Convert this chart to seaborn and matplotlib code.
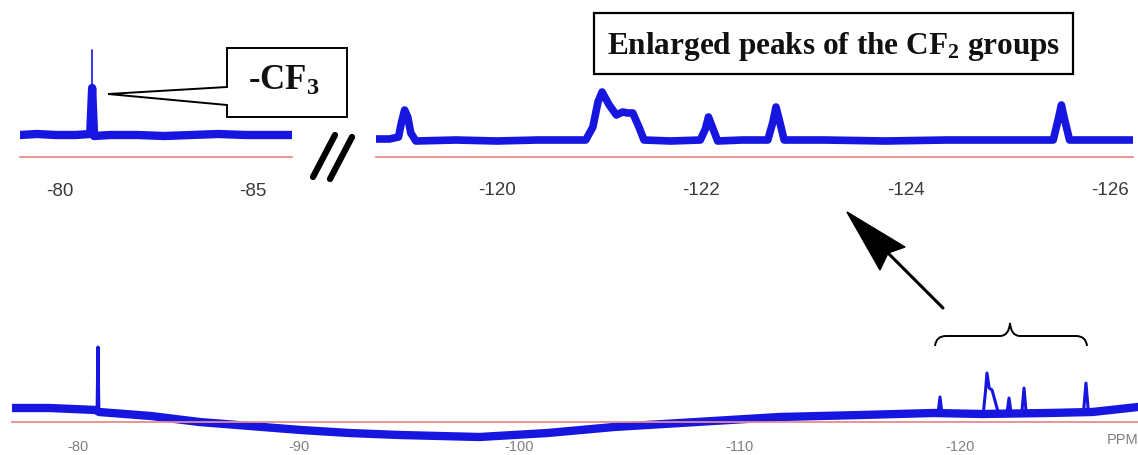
import numpy as np
import matplotlib
matplotlib.use("Agg")
import matplotlib.pyplot as plt
from matplotlib.patches import Polygon, Rectangle, PathPatch
from matplotlib.path import Path
from matplotlib.ticker import MultipleLocator, FormatStrFormatter
import seaborn as sb

output = "out.png"
W, H = 1138, 455
BLUE = "#1616e0"
AXRED = "#e48c8c"
TICKC = "#b07878"

# DATA (ppm, signal height above the axis line)
#-----------------------
# inset 1: -CF3 region
cf3_ppm = [-78.96, -79.4, -79.9, -80.4, -80.78, -80.83, -80.88, -81.3, -82.0,
           -82.7, -83.4, -84.1, -84.8, -85.5, -86.01]
cf3_int = [22, 23, 22, 22, 23, 69, 21, 22, 22, 21, 22, 23, 22, 22, 22]
cf3_tip_ppm = [-80.83, -80.83]
cf3_tip_int = [69, 107]
cf3_ticks = [-80, -85]

# inset 2: enlarged CF2 region
cf2_ppm = [-118.82, -118.95, -119.04, -119.07, -119.10, -119.13, -119.16, -119.21,
           -119.6, -120.0, -120.4, -120.87, -120.94, -120.99, -121.03, -121.10,
           -121.17, -121.23, -121.28, -121.33, -121.39, -121.44, -121.7, -121.99,
           -122.04, -122.07, -122.10, -122.16, -122.4, -122.65, -122.70, -122.73,
           -122.76, -122.81, -123.2, -123.8, -124.4, -125.0, -125.44, -125.49,
           -125.52, -125.55, -125.60, -125.9, -126.22]
cf2_int = [18, 18, 20, 35, 47, 40, 24, 16,
           17, 16, 17, 17, 30, 55, 65, 52,
           42, 45, 44, 44, 30, 17, 16, 17,
           28, 40, 32, 16, 17, 17, 35, 50,
           38, 17, 17, 16, 17, 17, 17, 38,
           52, 38, 17, 17, 17]
cf2_ticks = [-120, -122, -124, -126]

# full spectrum: rolling baseline + sharp peaks
full_base_ppm = [-77.0, -78.7, -80.8, -80.95, -83.3, -85.5, -87.8, -90.1, -92.3,
                 -94.6, -98.2, -101.3, -104.3, -107.3, -111.8, -115.5, -118.8,
                 -121.0, -124.0, -126.0, -128.07]
full_base_int = [14, 14, 12, 10, 6, 0, -4, -8, -11, -13, -15, -11, -5, -1, 5, 7,
                 9, 8, 9, 10, 15]
peak_id = ["CF3"] * 3 + ["a"] * 3 + ["b"] * 7 + ["c"] * 3 + ["d"] * 3 + ["e"] * 3
peak_ppm = [-80.86, -80.9, -80.94,
            -119.0, -119.09, -119.18,
            -121.05, -121.15, -121.22, -121.32, -121.45, -121.6, -121.75,
            -122.12, -122.22, -122.32,
            -122.8, -122.9, -123.0,
            -125.6, -125.71, -125.82]
peak_int = [12, 75, 10,
            9, 25, 8,
            8, 30, 49, 34, 32, 20, 8,
            8, 24, 8,
            9, 34, 9,
            10, 39, 10]
full_ticks = [-80, -90, -100, -110, -120]


# AXES HELPER (pixel placement, axis line at data 0)
#-----------------------
def make_axes(fig, left, right, spine, below, above, xlim):
    ax = fig.add_axes([left / W, 1 - (spine + below) / H, (right - left) / W, (below + above) / H])
    ax.set_facecolor("none")
    ax.set_xlim(*xlim)
    ax.set_ylim(-below, above)
    for s in ["top", "left", "right"]:
        ax.spines[s].set_visible(False)
    ax.spines["bottom"].set_position(("data", 0))
    ax.spines["bottom"].set_color(AXRED)
    ax.spines["bottom"].set_linewidth(1.3)
    ax.set_yticks([])
    return ax


def style_ticks(ax, ticks, minor, size, color, pad, major_len):
    ax.set_xticks(ticks)
    ax.xaxis.set_minor_locator(MultipleLocator(minor))
    ax.xaxis.set_major_formatter(FormatStrFormatter("%d"))
    ax.tick_params(axis="x", which="major", length=major_len, width=1, color=TICKC,
                   pad=pad, labelsize=size, labelcolor=color)
    ax.tick_params(axis="x", which="minor", length=2.5, width=1, color=TICKC)
    ax.set_xlabel("")
    ax.set_ylabel("")


# MAIN PLOT
#-----------------------
def main():
    sb.set_style("white")
    plt.rcParams["font.family"] = ["Liberation Sans", "DejaVu Sans"]
    plt.rcParams["axes.unicode_minus"] = False
    plt.rcParams["mathtext.fontset"] = "custom"
    plt.rcParams["mathtext.rm"] = "Liberation Serif:bold"
    plt.rcParams["mathtext.it"] = "Liberation Serif:bold"
    plt.rcParams["mathtext.bf"] = "Liberation Serif:bold"
    plt.rcParams["mathtext.default"] = "rm"

    fig = plt.figure(figsize=(W / 100, H / 100), dpi=100)

    # inset 1: -CF3
    ax1 = make_axes(fig, 20, 292, 157, 5, 115, (-78.96, -86.01))
    sb.lineplot(x=cf3_ppm, y=cf3_int, ax=ax1, color=BLUE, linewidth=6,
                estimator=None, sort=False)
    sb.lineplot(x=cf3_tip_ppm, y=cf3_tip_int, ax=ax1, color=BLUE, linewidth=1.2,
                estimator=None, sort=False)
    ax1.set_ylim(-5, 115)
    style_ticks(ax1, cf3_ticks, 1, 13.5, "#3a3a3a", 14, 5)

    # inset 2: CF2 groups
    ax2 = make_axes(fig, 376, 1133, 157, 5, 75, (-118.82, -126.22))
    sb.lineplot(x=cf2_ppm, y=cf2_int, ax=ax2, color=BLUE, linewidth=5.5,
                estimator=None, sort=False)
    ax2.set_ylim(-5, 75)
    style_ticks(ax2, cf2_ticks, 0.5, 13.5, "#3a3a3a", 13, 5)

    # full spectrum
    ax3 = make_axes(fig, 12, 1138, 422, 28, 85, (-77.0, -128.07))
    sb.lineplot(x=full_base_ppm, y=full_base_int, ax=ax3, color=BLUE, linewidth=6,
                estimator=None, sort=False)
    sb.lineplot(x=peak_ppm, y=peak_int, units=peak_id, ax=ax3, color=BLUE,
                linewidth=2.2, estimator=None, sort=False)
    ax3.set_ylim(-28, 85)
    style_ticks(ax3, full_ticks, 2, 10.5, "#808080", 8, 5)
    ax3.text(-126.67, -18, "PPM", fontsize=10.5, color="#808080", ha="left", va="center")

    # annotations (overlay in pixel coordinates)
    ov = fig.add_axes([0, 0, 1, 1], zorder=5)
    ov.set_xlim(0, W)
    ov.set_ylim(H, 0)
    ov.axis("off")
    ov.set_facecolor("none")

    callout = Polygon([(227, 87), (227, 48), (347, 48), (347, 117), (227, 117),
                       (227, 105), (108, 94)], closed=True, fc="white", ec="black", lw=1.4)
    ov.add_patch(callout)
    ov.text(284, 90, "-CF$_{3}$", fontsize=25, family="Liberation Serif",
            weight="bold", ha="center", va="baseline", color="#111111")

    ov.add_patch(Rectangle((594, 13), 479, 61, fc="white", ec="black", lw=1.6))
    ov.text(834, 54, "Enlarged peaks of the CF$_{2}$ groups", fontsize=22.5,
            family="Liberation Serif", weight="bold", ha="center", va="baseline",
            color="#111111")

    # break marks
    ov.plot([335, 313], [135, 177], color="black", lw=4.5, solid_capstyle="round")
    ov.plot([352, 330], [137, 179], color="black", lw=4.5, solid_capstyle="round")

    # arrow
    ov.plot([888, 943], [253, 308], color="black", lw=2.2)
    ov.add_patch(Polygon([(847, 212), (905, 247), (888, 253), (880, 270)],
                         closed=True, fc="black", ec="black", lw=1))

    # curly brace
    verts = [(935, 346), (936, 336), (946, 336), (1000, 336), (1009, 336), (1010, 323),
             (1011, 336), (1020, 336), (1076, 336), (1086, 336), (1087, 346)]
    codes = [Path.MOVETO, Path.CURVE3, Path.CURVE3, Path.LINETO, Path.CURVE3, Path.CURVE3,
             Path.CURVE3, Path.CURVE3, Path.LINETO, Path.CURVE3, Path.CURVE3]
    ov.add_patch(PathPatch(Path(verts, codes), fc="none", ec="black", lw=1.4))

    fig.savefig(output, dpi=100)


# RUN
#-----------------------
if __name__ == "__main__":
    main()
